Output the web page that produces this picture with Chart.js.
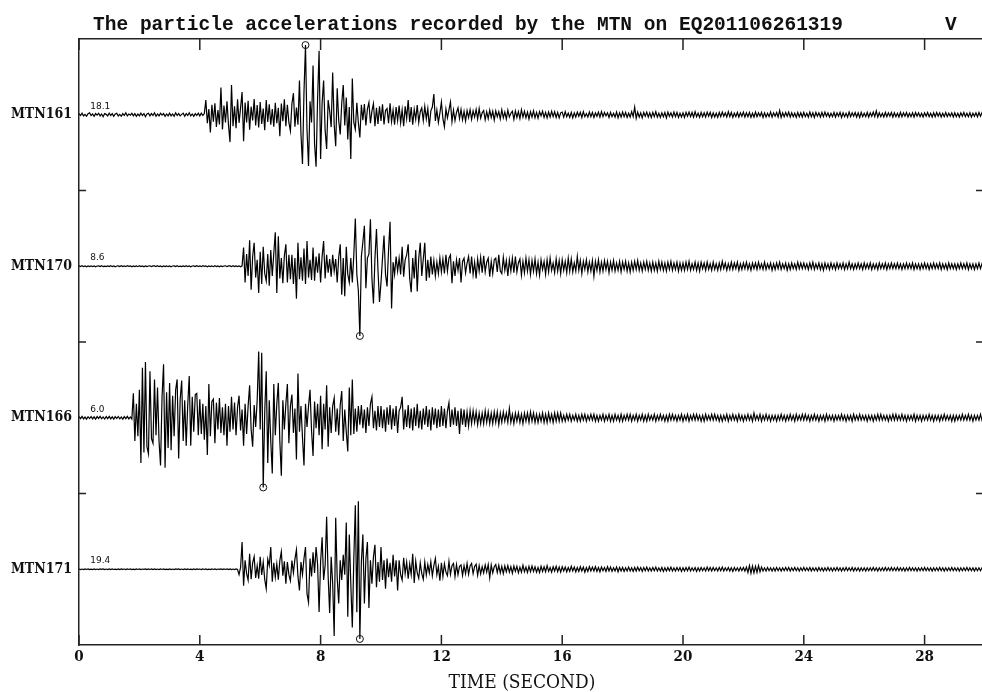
<!DOCTYPE html>
<html>
<head>
<meta charset="utf-8">
<script src="https://cdn.jsdelivr.net/npm/chart.js@4.4.1/dist/chart.umd.min.js"></script>
<style>
html, body { margin: 0; padding: 0; background: #fff; overflow: hidden; }
#wrap { width: 986px; height: 692px; }
</style>
</head>
<body>
<div id="wrap"><canvas id="seis" width="986" height="692"></canvas></div>
<script>
// sample interval of the records (s)
const DT = 0.05;

const STATIONS = ['MTN161', 'MTN170', 'MTN166', 'MTN171'];
const LEVELS = [3.5, 2.5, 1.5, 0.5];      // baseline of each trace on the y scale
const BAND_EDGES = [1, 2, 3];
const TIME_TICKS = [0, 4, 8, 12, 16, 20, 24, 28];

// vertical acceleration, one row per second
const MTN161 = [
  0.3, -0.2, 0.4, -0.3, 0.1, -0.4, 0.3, 0.5, -0.2, 0.2, -0.4, 0.3, -0.1, 0.4, -0.3, 0.2, -0.5, 0.3, 0.1, -0.3,
  0.4, -0.2, 0.3, -0.4, 0.2, 0.4, -0.3, 0.1, -0.4, 0.3, -0.2, 0.5, -0.3, 0.2, -0.1, 0.4, -0.3, 0.3, -0.4, 0.2,
  -0.3, 0.4, -0.2, 0.3, -0.5, 0.2, 0.4, -0.3, 0.3, -0.2, 0.5, -0.4, 0.2, -0.3, 0.4, -0.1, 0.3, -0.4, 0.2, -0.3,
  0.4, -0.3, 0.2, -0.4, 0.5, -0.2, 0.3, -0.3, 0.1, 0.4, -0.4, 0.3, -0.2, 0.5, -0.3, 0.2, -0.4, 0.3, -0.2, 0.4,
  -0.3, 0.4, -0.2, 0.3, 3.8, -2.2, 1.5, -4.6, 2.6, -1.8, 3.0, -3.2, 1.2, -2.5, 7.1, -3.8, 2.4, -2.0, 3.5, -2.6,
  -7.1, 7.7, -3.0, 2.2, -3.5, 4.0, -2.1, 1.8, 5.9, -6.9, 3.2, -2.0, 3.6, -3.9, 2.1, -1.5, 4.1, -2.8, 2.5, -3.3,
  3.3, -2.4, 1.6, -4.0, 3.8, -1.9, 2.7, -2.6, 1.5, -3.1, 3.1, -2.2, 1.8, -5.6, 2.9, -1.7, 4.0, -3.0, 2.6, -2.0,
  -4.2, 2.8, 5.6, -3.1, 1.9, -2.6, 8.9, -5.0, -12.8, 6.0, 18.1, -4.0, -13.3, 3.5, -2.0, 12.8, -7.5, -13.5, 4.0, 16.6,
  -11.5, 3.0, 8.9, -4.0, -8.9, 3.8, 1.0, -3.2, 11.0, -2.5, -8.2, 6.9, -1.5, -5.1, 3.0, 7.7, -2.8, 4.5, -6.4, 2.0,
  -11.5, 9.4, -2.0, -3.8, 3.1, -2.0, -5.9, 2.6, -1.4, 2.8, -2.8, 1.5, 3.2, -2.2, 1.0, 2.9, -3.0, 1.8, -2.4, 2.2,
  -1.6, 2.7, -2.5, 1.1, 1.6, -2.2, 3.0, -1.8, 1.2, -2.6, 2.0, -1.5, 2.4, -2.1, 1.3, -3.0, 2.2, -1.0, 3.8, -1.9,
  2.0, -2.6, 1.4, -1.2, 2.5, -2.0, 0.8, 1.8, -1.5, 2.2, -1.1, 1.6, -3.1, 1.0, 2.0, 5.4, -1.6, 1.2, -2.0, 0.4,
  3.3, -1.0, -3.1, 1.5, -0.8, 1.2, 3.3, -1.8, 1.2, -1.5, 0.6, 1.8, -1.0, 1.4, -1.3, 0.9, -1.6, 1.1, -0.7, 1.3,
  -1.2, 1.0, -0.6, 1.4, -1.1, 1.6, -0.9, 0.5, 1.1, -1.3, 0.8, -1.0, 1.2, -0.7, 0.9, -1.4, 1.0, -0.5, 0.8, -1.1,
  1.3, -0.8, 0.7, -1.1, 1.2, -0.6, 0.4, 0.9, -1.2, 1.0, -0.7, 0.8, -1.0, 1.3, -0.6, 0.9, -0.8, 0.7, -1.1, 0.8,
  -0.6, 1.0, -0.8, 0.6, -0.9, 0.8, -0.3, 0.9, -0.7, 0.6, -0.8, 0.7, -0.6, 0.9, -0.5, 0.8, -0.7, 0.6, -0.8, 0.5,
  0.7, -0.6, 0.8, -0.5, 0.4, -0.7, 0.6, -0.8, 0.5, -0.6, 0.7, -0.4, 0.6, -0.7, 0.8, -0.5, 0.3, -0.6, 0.7, -0.5,
  0.6, -0.7, 0.5, -0.4, 0.7, -0.6, 0.8, -0.5, 0.6, -0.3, 0.5, -0.7, 0.6, -0.5, 0.4, -0.6, 0.7, -0.8, 0.5, -0.6,
  0.7, -0.5, 0.6, -0.7, 0.4, -0.6, 0.8, -0.5, 2.0, -0.9, 0.7, -0.6, 0.5, -0.8, 0.6, -0.4, 0.7, -0.6, 0.5, -0.7,
  0.6, -0.5, 0.8, -0.6, 0.4, -0.7, 0.5, -0.5, 0.6, -0.8, 0.7, -0.4, 0.5, -0.6, 0.7, -0.5, 0.6, -0.7, 0.4, -0.6,
  0.5, -0.7, 0.6, -0.4, 0.7, -0.5, 0.6, -0.6, 0.8, -0.5, 0.4, -0.7, 0.6, -0.5, 0.5, -0.6, 0.7, -0.4, 0.6, -0.7,
  0.5, -0.6, 0.4, -0.7, 0.6, -0.5, 0.7, -0.4, 0.5, -0.6, 0.8, -0.5, 0.6, -0.7, 0.4, -0.5, 0.6, -0.6, 0.5, -0.4,
  0.7, -0.6, 0.5, -0.5, 0.6, -0.7, 0.4, -0.6, 0.7, -0.5, 0.5, -0.4, 0.6, -0.7, 0.5, -0.6, 0.4, -0.5, 0.7, -0.6,
  0.5, -0.4, 0.6, -0.6, 1.1, -0.7, 0.5, -0.5, 0.6, -0.4, 0.7, -0.6, 0.5, -0.5, 0.4, -0.7, 0.6, -0.5, 0.5, -0.6,
  0.6, -0.5, 0.4, -0.6, 0.7, -0.5, 0.5, -0.7, 0.6, -0.4, 0.5, -0.6, 0.6, -0.5, 0.7, -0.4, 0.5, -0.6, 0.4, -0.5,
  0.6, -0.6, 0.5, -0.4, 0.6, -0.7, 0.5, -0.5, 0.4, -0.6, 0.7, -0.5, 0.5, -0.4, 0.6, -0.6, 0.5, -0.7, 0.6, -0.5,
  0.4, -0.5, 0.6, -0.6, 0.5, -0.4, 0.7, -0.5, 1.0, -0.6, 0.5, -0.5, 0.4, -0.6, 0.6, -0.5, 0.5, -0.4, 0.6, -0.6,
  0.5, -0.5, 0.4, -0.6, 0.6, -0.5, 0.5, -0.4, 0.6, -0.6, 0.4, -0.5, 0.5, -0.6, 0.6, -0.4, 0.5, -0.5, 0.4, -0.6,
  0.5, -0.4, 0.6, -0.5, 0.4, -0.6, 0.5, -0.5, 0.6, -0.4, 0.5, -0.6, 0.4, -0.5, 0.6, -0.5, 0.4, -0.4, 0.5, -0.6,
  0.5, -0.5, 0.4, -0.6, 0.5, -0.4, 0.6, -0.5, 0.4, -0.5, 0.5, -0.6, 0.4, -0.4, 0.5, -0.5, 0.6, -0.4, 0.5, -0.5
];

const MTN170 = [
  0.05, -0.04, 0.06, -0.05, 0.03, -0.06, 0.04, -0.03, 0.05, -0.05, 0.04, -0.06, 0.03, 0.05, -0.04, 0.06, -0.05, 0.02, -0.04, 0.05,
  -0.03, 0.06, -0.05, 0.04, -0.06, 0.03, 0.05, -0.04, 0.06, -0.03, 0.04, -0.05, 0.06, -0.02, 0.05, -0.06, 0.03, -0.04, 0.05, -0.05,
  0.06, -0.03, 0.04, -0.06, 0.05, -0.04, 0.03, 0.06, -0.05, 0.04, 0.05, -0.04, 0.06, -0.05, 0.03, -0.06, 0.04, -0.03, 0.05, -0.05,
  0.04, -0.06, 0.03, 0.05, -0.04, 0.06, -0.05, 0.02, -0.04, 0.05, -0.03, 0.06, -0.05, 0.04, -0.06, 0.03, 0.05, -0.04, 0.06, -0.03,
  0.04, -0.05, 0.06, -0.02, 0.05, -0.06, 0.03, -0.04, 0.05, -0.05, 0.06, -0.03, 0.04, -0.06, 0.05, -0.04, 0.03, 0.06, -0.05, 0.04,
  0.04, -0.05, 0.06, -0.04, 0.05, -0.03, 0.04, -0.06, 0.05, 2.3, -2.0, 1.5, -1.2, 3.2, -2.9, 1.2, 2.9, -1.4, 0.8, -3.3,
  1.8, -2.2, 2.4, -0.9, -1.8, 1.5, -2.4, 2.0, -1.2, 1.6, 4.2, -3.3, 3.7, -1.5, 1.0, -2.1, 1.3, 2.7, -2.0, 1.4,
  -1.6, 1.4, -2.2, 1.0, -4.0, 2.9, -1.6, 1.1, -1.8, 2.2, -2.2, 3.1, -1.4, 0.8, -1.7, 2.3, -1.8, 1.2, -0.8, 1.6,
  -2.0, 1.2, 3.1, -1.5, 1.4, -0.8, 0.9, -1.3, 1.4, -0.6, 0.9, -2.0, 1.1, 2.7, -3.5, 1.0, -3.7, 2.4, -1.0, -2.0,
  1.0, -2.0, 1.4, 5.9, -1.0, -3.0, -8.6, 1.2, 3.0, 5.0, -2.7, 1.0, 1.5, 5.8, -1.5, -4.6, 1.0, 4.6, -0.5, -4.4,
  -2.0, 1.0, 3.8, -1.0, -2.5, 2.0, 5.5, -5.2, 0.5, -1.0, 1.2, -0.6, 1.0, -1.0, 2.4, -1.3, 0.8, 1.4, 2.7, -1.5,
  -3.2, 1.0, -1.5, 2.0, -3.1, 1.0, 2.9, -1.2, 0.9, 2.9, -1.8, 0.8, -1.4, 1.2, -1.0, 0.7, -1.2, 0.5, -0.9, 1.0,
  -0.7, 0.9, -0.9, 1.4, -0.6, 1.0, 1.4, -2.1, 0.6, -1.2, 0.8, -0.5, 1.0, -2.0, 0.6, 1.0, -0.8, 0.4, 1.2, -0.9,
  1.2, -1.0, 0.5, -1.5, 0.9, -0.6, 1.1, -0.8, 1.3, -0.7, 0.5, 1.0, -1.3, 0.6, -0.9, 0.8, 1.0, -0.7, 1.4, -0.6,
  -0.9, 1.1, -0.5, 0.7, -1.2, 0.8, -0.6, 1.0, -0.8, 1.2, -0.7, 0.4, 0.9, -1.1, 0.6, -0.8, 1.0, -0.6, 0.8, -1.0,
  0.7, -0.6, 0.9, -0.9, 0.5, -1.1, 0.8, -0.4, 0.6, -1.0, 0.8, -0.7, 1.0, -0.5, 0.4, -0.8, 0.9, -0.6, 0.7, -0.9,
  0.8, -0.5, 0.6, -0.8, 1.0, -0.6, 0.9, -0.7, 0.4, -0.6, 1.2, -0.5, 0.7, -0.9, 0.6, -0.4, 0.8, -0.7, 0.5, -0.6,
  0.7, -1.2, 0.6, -0.5, 0.8, -0.7, 0.5, -0.6, 0.7, -0.4, 0.6, -0.8, 0.5, -0.5, 0.7, -0.6, 0.4, -0.5, 0.6, -0.7,
  0.5, -0.4, 0.6, -0.6, 0.4, -0.7, 0.5, -0.5, 0.6, -0.4, 0.7, -0.5, 0.4, -0.6, 0.5, -0.4, 0.6, -0.5, 0.4, -0.6,
  0.5, -0.5, 0.4, -0.6, 0.6, -0.4, 0.5, -0.5, 0.4, -0.6, 0.5, -0.4, 0.6, -0.5, 0.4, -0.4, 0.5, -0.6, 0.4, -0.5,
  0.4, -0.5, 0.5, -0.4, 0.6, -0.5, 0.3, -0.4, 0.5, -0.5, 0.4, -0.6, 0.5, -0.3, 0.4, -0.5, 0.5, -0.4, 0.3, -0.5,
  0.5, -0.4, 0.3, -0.5, 0.4, -0.4, 0.6, -0.3, 0.4, -0.5, 0.3, -0.4, 0.5, -0.4, 0.4, -0.3, 0.5, -0.5, 0.3, -0.4,
  0.4, -0.3, 0.5, -0.4, 0.3, -0.5, 0.4, -0.3, 0.4, -0.4, 0.5, -0.3, 0.3, -0.4, 0.5, -0.4, 0.3, -0.3, 0.4, -0.5,
  0.3, -0.4, 0.4, -0.3, 0.5, -0.4, 0.3, -0.3, 0.4, -0.5, 0.3, -0.4, 0.4, -0.3, 0.3, -0.4, 0.5, -0.3, 0.4, -0.3,
  0.4, -0.3, 0.3, -0.4, 0.4, -0.3, 0.5, -0.4, 0.3, -0.3, 0.4, -0.4, 0.3, -0.5, 0.4, -0.3, 0.3, -0.4, 0.4, -0.3,
  0.3, -0.4, 0.4, -0.3, 0.3, -0.3, 0.4, -0.4, 0.3, -0.3, 0.5, -0.3, 0.3, -0.4, 0.3, -0.3, 0.4, -0.3, 0.3, -0.4,
  0.4, -0.3, 0.3, -0.3, 0.4, -0.4, 0.3, -0.3, 0.3, -0.4, 0.4, -0.3, 0.3, -0.3, 0.4, -0.4, 0.3, -0.3, 0.4, -0.3,
  0.3, -0.3, 0.4, -0.3, 0.3, -0.4, 0.3, -0.3, 0.4, -0.3, 0.3, -0.3, 0.4, -0.4, 0.3, -0.3, 0.3, -0.4, 0.3, -0.3,
  0.4, -0.3, 0.3, -0.4, 0.3, -0.3, 0.4, -0.3, 0.3, -0.3, 0.4, -0.4, 0.3, -0.3, 0.3, -0.4, 0.4, -0.3, 0.3, -0.3,
  0.3, -0.4, 0.3, -0.3, 0.4, -0.3, 0.3, -0.3, 0.4, -0.4, 0.3, -0.3, 0.3, -0.4, 0.3, -0.3, 0.4, -0.3, 0.3, -0.3
];

const MTN166 = [
  0.1, -0.08, 0.12, -0.1, 0.06, -0.12, 0.09, -0.07, 0.11, -0.1, 0.08, -0.12, 0.1, -0.06, 0.12, -0.09, 0.07, -0.11, 0.1, -0.08,
  0.12, -0.1, 0.08, -0.12, 0.1, -0.07, 0.11, -0.09, 0.06, -0.12, 0.1, -0.08, 0.12, -0.1, 0.07, -0.11, 2.1, -2.0, 1.2, -1.6,
  2.4, -3.9, 4.3, -3.0, 4.8, -2.5, -3.1, 4.0, -1.8, -2.2, 3.3, -1.5, 2.6, -2.0, -4.1, 1.8, 4.6, -4.3, 2.2, -2.6,
  3.0, -2.8, 1.9, -1.6, 2.4, 3.3, -3.5, 1.6, 3.2, -2.0, 1.5, -2.4, 1.1, 3.6, -2.4, 1.8, -1.2, 2.0, 2.1, -1.5,
  1.6, -1.4, 1.2, -1.9, 1.0, -3.2, 2.9, -1.6, 1.4, 1.6, -2.2, 1.3, -1.0, 1.7, -1.3, 0.9, -1.5, 1.2, -2.4, 1.0,
  -1.2, 1.8, -1.0, 1.3, -1.5, 0.9, 1.9, -1.1, 0.7, -2.4, 1.2, -1.4, 1.0, 2.8, -1.0, -2.5, 1.1, -0.8, 1.5, 5.7,
  -1.0, 5.6, -6.0, 0.5, 4.0, -3.9, 1.5, -2.0, -4.8, 2.9, -1.5, 1.2, 3.0, -2.0, -5.0, 1.5, -1.0, 1.2, 2.9, -2.2,
  1.0, 2.0, -1.3, 0.8, -3.6, 3.8, -1.2, 1.0, -1.7, -4.1, 1.2, -0.8, 1.0, 2.4, -1.1, -3.3, 1.4, -0.9, 1.2, -1.5,
  1.9, -2.7, 1.2, -1.0, 2.8, -2.5, 0.9, -1.3, 1.0, 1.7, -1.2, 0.8, -1.5, 1.1, 2.3, -2.0, 0.7, -1.2, -2.9, 2.6,
  -1.5, 3.3, -1.4, 0.8, -1.2, 1.0, -0.6, 1.1, -0.9, 0.7, -1.3, 0.9, -0.7, 1.2, 1.8, -0.9, 0.6, -1.1, 1.0, -0.8,
  1.0, -0.9, 0.7, -1.2, 0.9, -0.6, 1.1, -1.0, 0.8, -0.7, 1.0, -1.3, 0.6, 0.9, 1.8, -1.0, 0.7, -0.8, 1.1, -0.9,
  0.8, -1.1, 0.9, -0.7, 1.2, -0.9, 0.6, -1.0, 0.8, -0.6, 1.0, -0.8, 0.7, -1.1, 0.9, -0.6, 0.8, -0.9, 0.7, -0.8,
  1.0, -0.7, 0.8, -0.9, 0.6, 1.3, -0.8, 0.7, -0.6, 0.9, -0.7, 0.6, -1.4, 0.8, -0.6, 0.7, -0.8, 0.5, -0.7, 0.6,
  -0.5, 0.6, -0.4, 0.5, -0.6, 0.4, -0.5, 0.4, -0.5, 0.6, -0.4, 0.5, -0.5, 0.4, -0.5, 0.5, -0.4, 0.5, -0.6, 0.4,
  -0.4, 0.5, -0.3, 0.4, -0.4, 0.8, -0.4, 0.3, -0.5, 0.4, -0.3, 0.4, -0.4, 0.3, -0.5, 0.4, -0.3, 0.4, -0.4, 0.5,
  -0.3, 0.4, -0.4, 0.3, -0.4, 0.3, -0.3, 0.4, -0.4, 0.3, -0.4, 0.4, -0.3, 0.3, -0.4, 0.4, -0.3, 0.4, -0.3, 0.4,
  -0.3, 0.2, -0.3, 0.3, -0.2, 0.3, -0.3, 0.2, -0.2, 0.3, -0.3, 0.2, -0.3, 0.3, -0.2, 0.3, -0.3, 0.2, -0.2, 0.3,
  -0.2, 0.3, -0.3, 0.2, -0.3, 0.2, -0.2, 0.3, -0.3, 0.2, -0.2, 0.3, -0.3, 0.2, -0.3, 0.3, -0.2, 0.2, -0.3, 0.3,
  -0.3, 0.2, -0.2, 0.3, -0.2, 0.3, -0.3, 0.2, -0.2, 0.3, -0.3, 0.2, -0.2, 0.3, -0.3, 0.2, -0.3, 0.3, -0.2, 0.2,
  -0.2, 0.3, -0.3, 0.2, -0.2, 0.3, -0.2, 0.2, -0.3, 0.2, -0.3, 0.3, -0.2, 0.3, -0.2, 0.2, -0.3, 0.2, -0.2, 0.3,
  -0.3, 0.2, -0.2, 0.3, -0.3, 0.2, -0.2, 0.3, -0.2, 0.3, -0.2, 0.2, -0.3, 0.2, -0.3, 0.3, -0.2, 0.2, -0.2, 0.3,
  -0.2, 0.3, -0.2, 0.2, -0.3, 0.2, -0.3, 0.2, -0.2, 0.3, -0.3, 0.2, -0.2, 0.3, -0.2, 0.2, -0.3, 0.3, -0.2, 0.2,
  -0.3, 0.2, -0.2, 0.3, -0.2, 0.2, -0.3, 0.4, -0.2, 0.2, -0.2, 0.3, -0.3, 0.2, -0.2, 0.3, -0.2, 0.2, -0.3, 0.2,
  -0.2, 0.2, -0.3, 0.2, -0.2, 0.3, -0.2, 0.2, -0.3, 0.2, -0.2, 0.3, -0.2, 0.2, -0.3, 0.3, -0.2, 0.2, -0.2, 0.3,
  -0.2, 0.3, -0.2, 0.2, -0.3, 0.2, -0.2, 0.3, -0.2, 0.2, -0.3, 0.2, -0.2, 0.2, -0.3, 0.3, -0.2, 0.2, -0.2, 0.2,
  -0.3, 0.2, -0.2, 0.2, -0.2, 0.3, -0.2, 0.2, -0.3, 0.2, -0.2, 0.2, -0.3, 0.3, -0.2, 0.2, -0.2, 0.3, -0.2, 0.2,
  -0.2, 0.2, -0.3, 0.2, -0.2, 0.2, -0.3, 0.2, -0.2, 0.3, -0.2, 0.3, -0.2, 0.2, -0.2, 0.2, -0.3, 0.2, -0.2, 0.3,
  -0.2, 0.3, -0.2, 0.2, -0.2, 0.3, -0.2, 0.2, -0.3, 0.2, -0.2, 0.2, -0.2, 0.3, -0.3, 0.2, -0.2, 0.2, -0.3, 0.2,
  -0.2, 0.2, -0.2, 0.3, -0.2, 0.2, -0.3, 0.2, -0.2, 0.2, -0.3, 0.2, -0.2, 0.3, -0.2, 0.2, -0.2, 0.2, -0.3, 0.2,
  -0.3, 0.2, -0.2, 0.2, -0.2, 0.3, -0.2, 0.2, -0.2, 0.3, -0.2, 0.2, -0.3, 0.2, -0.2, 0.2, -0.2, 0.3, -0.2, 0.2
];

const MTN171 = [
  0.08, -0.1, 0.06, -0.08, 0.1, -0.06, 0.08, -0.1, 0.05, -0.08, 0.1, -0.07, 0.06, -0.1, 0.08, -0.05, 0.09, -0.08, 0.06, -0.1,
  0.07, -0.08, 0.1, -0.06, 0.05, -0.09, 0.08, -0.07, 0.1, -0.05, 0.06, -0.1, 0.08, -0.06, 0.09, -0.08, 0.05, -0.1, 0.07, -0.06,
  0.1, -0.08, 0.06, -0.05, 0.08, -0.1, 0.07, -0.06, 0.09, -0.08, 0.08, -0.1, 0.06, -0.08, 0.1, -0.06, 0.08, -0.1, 0.05, -0.08,
  0.1, -0.07, 0.06, -0.1, 0.08, -0.05, 0.09, -0.08, 0.06, -0.1, 0.07, -0.08, 0.1, -0.06, 0.05, -0.09, 0.08, -0.07, 0.1, -0.05,
  0.06, -0.1, 0.08, -0.06, 0.09, -0.08, 0.05, -0.1, 0.07, -0.06, 0.1, -0.08, 0.06, -0.05, 0.08, -0.1, 0.07, -0.06, 0.09, -0.08,
  0.08, -0.1, 0.06, -0.08, 0.1, -0.06, -1.5, 0.5, 7.6, -4.6, 2.5, -1.2, -3.0, 4.3, -2.8, 1.8, 3.5, -2.4, 1.0, -2.6,
  3.5, -1.6, 2.0, -2.8, -5.4, 2.8, 1.0, 6.2, -3.5, 1.8, -2.2, 1.5, -2.9, 2.4, 4.9, -1.8, 2.2, -4.0, 2.0, -1.5,
  -3.2, 2.4, -1.0, 2.8, 5.4, -2.0, -5.9, 2.0, -1.5, 3.0, 6.2, -6.8, -9.2, 3.0, -2.0, 4.7, -1.0, 6.2, 1.5, -11.9,
  2.0, 8.9, -3.0, 1.0, 14.6, -2.0, -12.2, 3.5, -4.0, -18.6, 14.3, -2.5, -9.5, 2.5, -3.0, 4.0, -1.5, 13.0, -13.2, 9.7,
  -4.0, -16.2, 3.0, 17.8, -12.0, 18.9, -19.4, 2.0, 9.7, -9.5, 3.0, 7.6, -10.8, 2.5, -4.0, 3.5, 6.8, -5.0, 2.0, -3.5,
  6.2, -3.0, 2.5, -5.4, 3.0, -2.2, 1.8, -3.5, 4.0, -2.0, 2.5, -5.9, 2.5, -1.5, -3.0, 3.2, -1.2, 2.0, -2.6, 1.5,
  -1.5, 4.3, -3.8, 2.2, -1.0, -2.5, 1.8, -1.2, -2.8, 2.0, -1.6, 1.3, -1.0, 2.1, -1.8, 1.0, 3.0, -1.5, 0.8, -3.2,
  1.8, -2.0, 1.5, -0.8, -1.8, 2.2, -1.4, 1.0, 1.6, -2.0, 1.3, -1.5, 0.8, 1.2, -1.7, 1.0, -1.2, 1.6, -1.4, 0.9,
  1.6, -1.2, 0.8, 1.4, -1.7, 1.0, -1.3, 0.7, -1.0, 1.2, -0.8, 1.3, -2.4, 1.2, -1.0, 0.7, 1.3, -0.9, 1.1, -1.0,
  0.8, -1.2, 0.9, -0.7, 1.0, -0.8, 0.7, -1.1, 0.9, -0.6, 0.8, -1.0, 0.6, -0.8, 1.1, -0.7, 0.6, -0.9, 0.8, -0.7,
  0.9, -0.6, 0.7, -0.8, 0.5, -0.9, 0.8, -0.6, 0.7, -0.7, 1.0, -0.6, 0.5, -0.8, 0.7, -0.5, 0.8, -0.7, 0.6, -0.8,
  0.7, -0.5, 0.6, -0.7, 0.5, -0.6, 0.8, -0.5, 0.6, -0.7, 0.5, -0.6, 0.7, -0.5, 0.6, -0.8, 0.5, -0.6, 0.7, -0.5,
  0.6, -0.5, 0.7, -0.6, 0.5, -0.7, 0.6, -0.4, 0.5, -0.6, 0.7, -0.5, 0.6, -0.6, 0.4, -0.5, 0.6, -0.7, 0.5, -0.5,
  0.5, -0.6, 0.4, -0.5, 0.6, -0.5, 0.4, -0.6, 0.5, -0.5, 0.6, -0.4, 0.5, -0.6, 0.5, -0.4, 0.6, -0.5, 0.4, -0.5,
  0.5, -0.4, 0.6, -0.5, 0.4, -0.5, 0.5, -0.6, 0.4, -0.5, 0.5, -0.4, 0.6, -0.5, 0.4, -0.5, 0.5, -0.4, 0.5, -0.6,
  0.4, -0.5, 0.5, -0.4, 0.6, -0.5, 0.4, -0.4, 0.5, -0.6, 0.4, -0.5, 0.5, -0.4, 0.4, -0.5, 0.6, -0.4, 0.5, -0.5,
  0.5, -0.4, 0.4, -0.5, 0.5, -0.4, 0.6, -0.5, 0.4, -0.4, 0.5, -0.5, 0.4, -0.6, 0.5, -0.4, 0.4, -0.5, 0.5, -0.4,
  0.5, -0.5, 0.6, -0.9, 1.0, -1.1, 0.9, -1.0, 0.8, -0.9, 1.0, -0.7, 0.6, -0.5, 0.4, -0.5, 0.5, -0.4, 0.4, -0.5,
  0.4, -0.5, 0.5, -0.4, 0.4, -0.5, 0.4, -0.4, 0.5, -0.4, 0.5, -0.5, 0.4, -0.4, 0.5, -0.4, 0.4, -0.5, 0.4, -0.4,
  0.5, -0.4, 0.4, -0.4, 0.5, -0.5, 0.4, -0.4, 0.4, -0.5, 0.5, -0.4, 0.4, -0.5, 0.4, -0.4, 0.5, -0.4, 0.4, -0.5,
  0.4, -0.4, 0.5, -0.4, 0.4, -0.5, 0.4, -0.4, 0.5, -0.4, 0.4, -0.4, 0.5, -0.5, 0.4, -0.4, 0.4, -0.5, 0.4, -0.4,
  0.4, -0.5, 0.4, -0.4, 0.4, -0.4, 0.5, -0.4, 0.4, -0.5, 0.4, -0.4, 0.4, -0.4, 0.5, -0.4, 0.4, -0.4, 0.5, -0.4,
  0.4, -0.4, 0.5, -0.4, 0.4, -0.4, 0.4, -0.5, 0.4, -0.4, 0.5, -0.4, 0.4, -0.4, 0.4, -0.5, 0.4, -0.4, 0.4, -0.4,
  0.5, -0.4, 0.4, -0.4, 0.4, -0.5, 0.4, -0.4, 0.4, -0.4, 0.5, -0.4, 0.4, -0.5, 0.4, -0.4, 0.4, -0.4, 0.5, -0.4,
  0.4, -0.4, 0.4, -0.5, 0.4, -0.4, 0.4, -0.4, 0.5, -0.4, 0.4, -0.4, 0.4, -0.5, 0.4, -0.4, 0.4, -0.4, 0.4, -0.5
];

const RECORDS = [MTN161, MTN170, MTN166, MTN171];

// each trace is scaled so its largest excursion fills this much of its band
const AMP = 0.46;
const SERIF = "'DejaVu Serif Condensed', 'DejaVu Serif', serif";

const peakIndex = rec => {
  let k = 0;
  rec.forEach((v, i) => { if (Math.abs(v) > Math.abs(rec[k])) k = i; });
  return k;
};

const datasets = RECORDS.map((rec, s) => {
  const ip = peakIndex(rec);
  const peak = Math.abs(rec[ip]);
  return {
    label: STATIONS[s],
    data: rec.map((v, i) => ({ x: i * DT, y: LEVELS[s] + v * AMP / peak })),
    peak: peak,
    borderColor: '#000',
    borderWidth: 1.2,
    tension: 0,
    pointRadius: ctx => (ctx.dataIndex === ip ? 3.5 : 0),
    pointBorderColor: '#111',
    pointBorderWidth: 1,
    pointBackgroundColor: 'rgba(0,0,0,0)'
  };
});

const frameDecor = {
  id: 'frameDecor',
  afterDraw(chart) {
    const { ctx, chartArea: a, scales: { x, y } } = chart;
    ctx.save();
    // inward tick marks on all four sides
    ctx.strokeStyle = '#222';
    ctx.lineWidth = 1.5;
    ctx.beginPath();
    TIME_TICKS.forEach(t => {
      const px = x.getPixelForValue(t);
      ctx.moveTo(px, a.bottom); ctx.lineTo(px, a.bottom - 10);
      ctx.moveTo(px, a.top); ctx.lineTo(px, a.top + 11);
    });
    BAND_EDGES.forEach(v => {
      const py = y.getPixelForValue(v);
      ctx.moveTo(a.left, py); ctx.lineTo(a.left + 7, py);
      ctx.moveTo(a.right, py); ctx.lineTo(a.right - 9, py);
    });
    ctx.stroke();

    // peak value of each trace, above its baseline
    ctx.fillStyle = '#111';
    ctx.font = "9px 'DejaVu Sans', sans-serif";
    ctx.textBaseline = 'alphabetic';
    chart.data.datasets.forEach((ds, s) => {
      ctx.fillText(ds.peak.toFixed(1), x.getPixelForValue(0.37), y.getPixelForValue(LEVELS[s]) - 6);
    });

    // heading and component letter
    const head = 'The particle accelerations recorded by the MTN on EQ201106261319';
    ctx.font = "bold 21px 'Liberation Mono', monospace";
    const w = ctx.measureText(head).width;
    ctx.save();
    ctx.translate(93, 30);
    ctx.scale(750 / w, 1);
    ctx.fillText(head, 0, 0);
    ctx.restore();
    ctx.save();
    ctx.translate(945, 30);
    ctx.scale(750 / w, 1);
    ctx.fillText('V', 0, 0);
    ctx.restore();

    // time axis title
    ctx.font = '19px ' + SERIF;
    ctx.textAlign = 'center';
    ctx.fillText('TIME (SECOND)', 522, 688);
    ctx.restore();
  }
};

new Chart(document.getElementById('seis'), {
  type: 'line',
  data: { datasets: datasets },
  options: {
    responsive: false,
    animation: false,
    events: [],
    layout: { padding: { left: 0, right: 1, top: 39, bottom: 0 } },
    plugins: { legend: { display: false }, tooltip: { enabled: false } },
    scales: {
      x: {
        type: 'linear',
        position: 'bottom',
        min: 0,
        max: 30,
        afterBuildTicks: s => { s.ticks = TIME_TICKS.map(v => ({ value: v })); },
        afterFit: s => { s.height = 47; },
        ticks: { color: '#111', padding: -5, maxRotation: 0, font: { family: SERIF, size: 15, weight: 'bold' } },
        grid: { display: false },
        border: { display: true, color: '#222', width: 1.5 }
      },
      xTop: {
        type: 'linear',
        position: 'top',
        min: 0,
        max: 30,
        afterFit: s => { s.height = 0; },
        ticks: { display: false },
        grid: { display: false },
        border: { display: true, color: '#222', width: 1.5 }
      },
      y: {
        type: 'linear',
        position: 'left',
        min: 0,
        max: 4,
        afterBuildTicks: s => { s.ticks = LEVELS.slice().reverse().map(v => ({ value: v })); },
        afterFit: s => { s.width = 79; },
        ticks: {
          color: '#111',
          padding: -1,
          font: { family: SERIF, size: 14, weight: 'bold' },
          callback: v => STATIONS[LEVELS.indexOf(v)]
        },
        grid: { display: false },
        border: { display: true, color: '#222', width: 1.5 }
      }
    }
  },
  plugins: [frameDecor]
});
</script>
</body>
</html>
